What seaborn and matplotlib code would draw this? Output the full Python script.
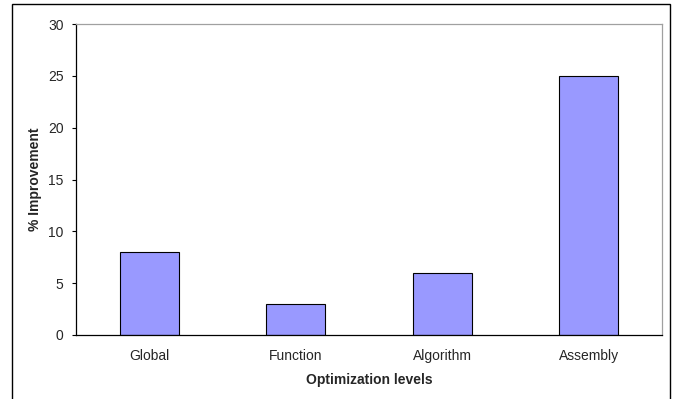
import matplotlib
matplotlib.use("Agg")
import matplotlib.pyplot as plt
import matplotlib.patches as mpatches
import numpy as np
import pandas as pd
import seaborn as sns

categories = ["Global", "Function", "Algorithm", "Assembly"]
improvement = [8, 3, 6, 25]
y_ticks = [0, 5, 10, 15, 20, 25, 30]

sns.set_style("white")
plt.rcParams["font.family"] = ["Liberation Sans", "DejaVu Sans"]

df = pd.DataFrame({"level": categories, "improvement": improvement})

fig = plt.figure(figsize=(6.77, 3.99), dpi=100)
ax = fig.add_axes([76 / 677, (399 - 335) / 399, (662 - 76) / 677, (335 - 24) / 399])

sns.barplot(data=df, x="level", y="improvement", color="#9999FF", width=0.4,
            edgecolor="black", linewidth=0.8, saturation=1, ax=ax)

ax.set_xlim(-0.5, len(categories) - 0.5)
ax.set_ylim(0, 30)
ax.set_yticks(y_ticks)
ax.set_yticklabels([str(t) for t in y_ticks], fontsize=10)

# category labels at centers, tick marks at category boundaries
ax.set_xticks(range(len(categories)))
ax.set_xticklabels(categories, fontsize=10)
ax.set_xticks(np.arange(-0.5, len(categories)), minor=True)
ax.tick_params(axis="x", which="major", length=0, pad=10)
ax.tick_params(axis="x", which="minor", length=3, width=0.8, color="black", direction="out")
ax.tick_params(axis="y", which="major", length=3, width=0.8, color="black", direction="out", pad=6, left=True)

ax.set_xlabel("Optimization levels", fontsize=10, fontweight="bold", labelpad=7)
ax.set_ylabel("% Improvement", fontsize=10, fontweight="bold", labelpad=4.5)

for side in ["left", "bottom"]:
    ax.spines[side].set_color("black")
    ax.spines[side].set_linewidth(0.9)
for side in ["top", "right"]:
    ax.spines[side].set_visible(True)
    ax.spines[side].set_color("#a0a0a0")
    ax.spines[side].set_linewidth(0.9)

# chart-area frame
frame = mpatches.Rectangle((12 / 677, -0.02), (670 - 12) / 677, (399 - 4) / 399 + 0.02,
                           transform=fig.transFigure, fill=False, edgecolor="black",
                           linewidth=1.0, clip_on=False)
fig.patches.append(frame)

fig.savefig("out.png", dpi=100)
